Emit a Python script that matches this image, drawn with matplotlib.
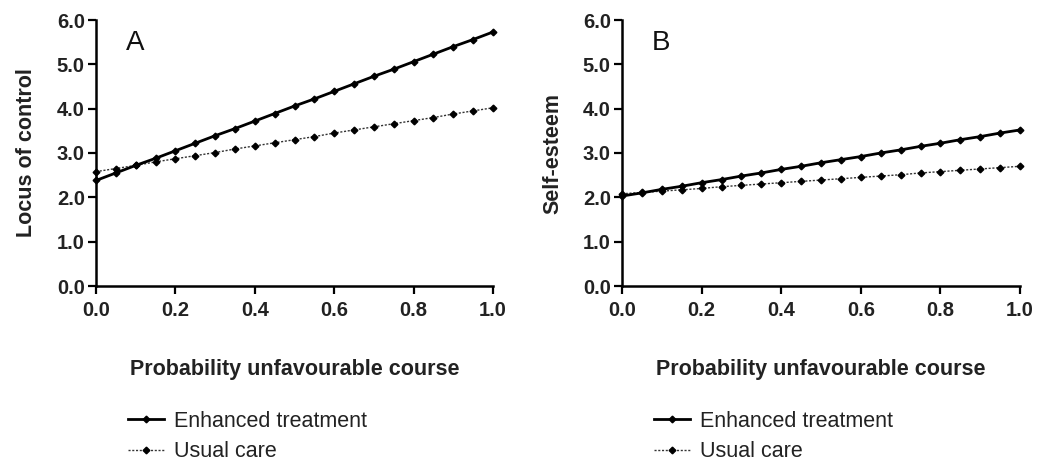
import numpy as np
import matplotlib.pyplot as plt
from matplotlib.lines import Line2D

plt.rcParams['font.family'] = ['Liberation Sans', 'DejaVu Sans']

# probability of unfavourable course (x axis)
prob = [0.00, 0.05, 0.10, 0.15, 0.20, 0.25, 0.30, 0.35, 0.40, 0.45, 0.50,
        0.55, 0.60, 0.65, 0.70, 0.75, 0.80, 0.85, 0.90, 0.95, 1.00]

# panel A: locus of control
loc_enhanced = [2.38, 2.55, 2.72, 2.88, 3.05, 3.22, 3.39, 3.55, 3.72, 3.89, 4.06,
                4.22, 4.39, 4.56, 4.73, 4.89, 5.06, 5.23, 5.40, 5.56, 5.73]
loc_usual = [2.58, 2.65, 2.72, 2.80, 2.87, 2.94, 3.01, 3.09, 3.16, 3.23, 3.30,
             3.37, 3.45, 3.52, 3.59, 3.66, 3.73, 3.80, 3.88, 3.95, 4.02]

# panel B: self-esteem
se_enhanced = [2.03, 2.10, 2.18, 2.25, 2.33, 2.40, 2.48, 2.55, 2.63, 2.70, 2.78,
               2.85, 2.92, 3.00, 3.07, 3.15, 3.22, 3.30, 3.37, 3.45, 3.52]
se_usual = [2.08, 2.11, 2.14, 2.17, 2.20, 2.24, 2.27, 2.30, 2.33, 2.36, 2.39,
            2.42, 2.45, 2.48, 2.51, 2.55, 2.58, 2.61, 2.64, 2.67, 2.70]

W, H = 1040, 462
fig = plt.figure(figsize=(W / 100, H / 100), dpi=100)


def panel(left_px, right_px, enh, usual, ylabel, letter):
    ax = fig.add_axes([left_px / W, (H - 286) / H, (right_px - left_px) / W, 266 / H])
    ax.plot(prob, usual, color='#333333', lw=1.0, ls=(0, (1.5, 1.2)),
            marker='D', ms=3.4, mfc='black', mec='black', clip_on=False)
    ax.plot(prob, enh, color='black', lw=2.0, ls='-',
            marker='D', ms=3.4, mfc='black', mec='black', clip_on=False)
    ax.set_xlim(0, 1)
    ax.set_ylim(0, 6)
    ax.set_xticks(np.arange(0, 1.01, 0.2))
    ax.set_yticks(np.arange(0, 6.01, 1.0))
    ax.set_xticklabels([f'{v:.1f}' for v in np.arange(0, 1.01, 0.2)])
    ax.set_yticklabels([f'{v:.1f}' for v in np.arange(0, 6.01, 1.0)])
    for s in ['top', 'right']:
        ax.spines[s].set_visible(False)
    for s in ['left', 'bottom']:
        ax.spines[s].set_linewidth(1.8)
    ax.tick_params(direction='out', length=6, width=1.6, labelsize=14.5, pad=2)
    ax.tick_params(axis='x', pad=5)
    for t in ax.get_xticklabels() + ax.get_yticklabels():
        t.set_fontweight('bold')
        t.set_color('#222222')
    ax.set_ylabel(ylabel, fontsize=15.5, fontweight='bold', color='#222222', labelpad=14)
    ax.set_xlabel('Probability unfavourable course', fontsize=15.5, fontweight='bold',
                  color='#222222', labelpad=28)
    ax.text(0.098, 0.912, letter, transform=ax.transAxes, fontsize=20, ha='center',
            va='center', color='#111111')
    handles = [
        Line2D([], [], color='black', lw=2.0, marker='D', ms=3.4),
        Line2D([], [], color='#333333', lw=1.0, ls=(0, (1.5, 1.2)), marker='D', ms=3.4,
               mfc='black', mec='black'),
    ]
    leg = ax.legend(handles, ['Enhanced treatment', 'Usual care'], loc='upper left',
                    bbox_to_anchor=(0.08, -0.47), frameon=False, fontsize=15.5,
                    handlelength=1.7, handletextpad=0.45, labelspacing=0.42,
                    borderaxespad=0, borderpad=0)
    for t in leg.get_texts():
        t.set_color('#222222')
    return ax


panel(96, 493, loc_enhanced, loc_usual, 'Locus of control', 'A')
panel(622, 1020, se_enhanced, se_usual, 'Self-esteem', 'B')

fig.savefig('out.png', dpi=100)
